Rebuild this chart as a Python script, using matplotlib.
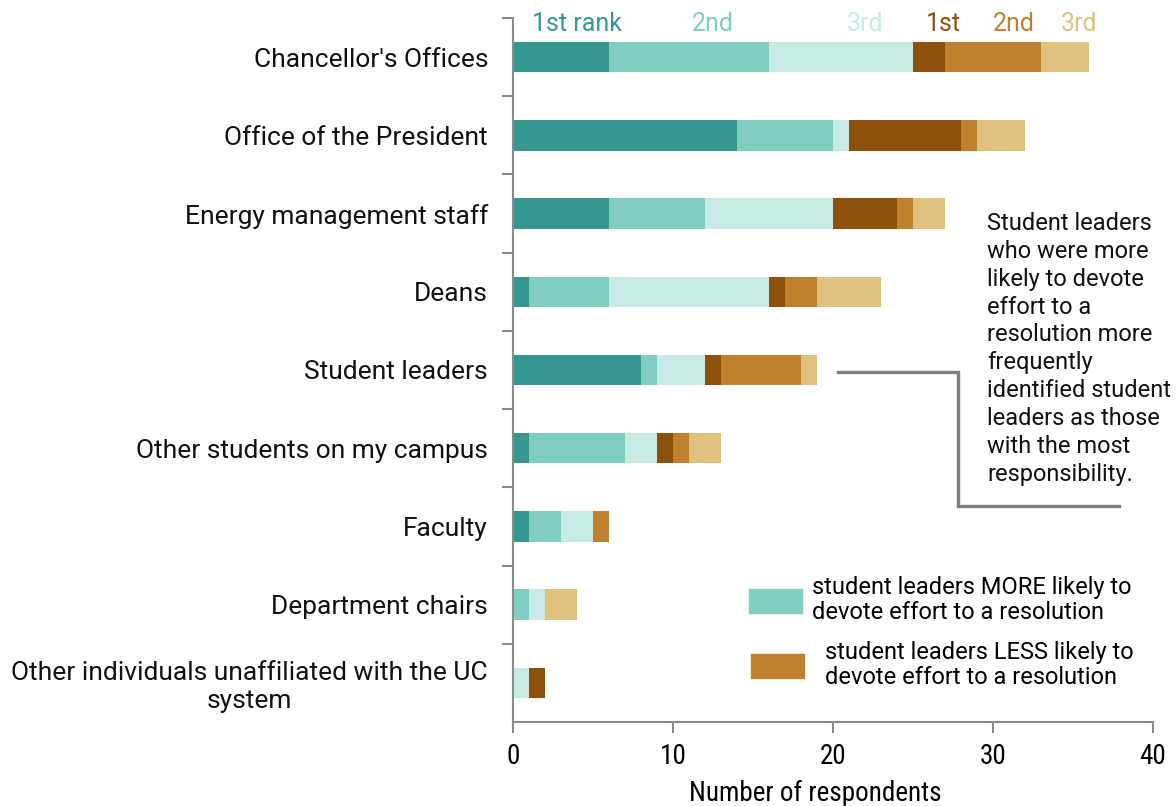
import numpy as np
import matplotlib.pyplot as plt
from matplotlib.patches import Patch

# categories, top to bottom
categories = ["Chancellor's Offices", "Office of the President", "Energy management staff",
              "Deans", "Student leaders", "Other students on my campus", "Faculty",
              "Department chairs", "Other individuals unaffiliated with the UC\nsystem"]

# student leaders MORE likely to devote effort (1st, 2nd, 3rd rank)
more_1st = [6, 14, 6, 1, 8, 1, 1, 0, 0]
more_2nd = [10, 6, 6, 5, 1, 6, 2, 1, 0]
more_3rd = [9, 1, 8, 10, 3, 2, 2, 1, 1]
# student leaders LESS likely to devote effort (1st, 2nd, 3rd rank)
less_1st = [2, 7, 4, 1, 1, 1, 0, 0, 1]
less_2nd = [6, 1, 1, 2, 5, 1, 1, 0, 0]
less_3rd = [3, 3, 2, 4, 1, 2, 0, 2, 0]

series = [more_1st, more_2nd, more_3rd, less_1st, less_2nd, less_3rd]
colors = ['#35978f', '#80cdc1', '#c7eae5', '#8c510a', '#bf812d', '#dfc27d']
rank_labels = ['1st rank', '2nd', '3rd', '1st', '2nd', '3rd']
rank_x = [4.0, 12.5, 22.0, 26.9, 31.3, 35.4]

plt.rcParams['font.family'] = ['Roboto', 'DejaVu Sans']
narrow = ['Roboto Condensed', 'Liberation Sans Narrow', 'Roboto']

fig = plt.figure(figsize=(11.76, 8.06), dpi=100)
ax = fig.add_axes([513/1176, 1-722/806, 640/1176, 704/806])

y = np.arange(len(categories))
left = np.zeros(len(categories))
for vals, c in zip(series, colors):
    vals = np.array(vals, dtype=float)
    ax.barh(y, vals, left=left, height=0.39, color=c, linewidth=0)
    left += vals

ax.set_xlim(0, 40)
ax.set_ylim(8.5, -0.5)
ax.set_yticks(y)
ax.set_yticklabels(categories, fontsize=19, color='#111111', multialignment='center')
ax.set_yticks(np.arange(-0.5, 8, 1), minor=True)
ax.tick_params(axis='y', which='major', length=0, pad=18)
ax.tick_params(axis='y', which='minor', length=8, width=1.5, color='#8c8c8c')
ax.set_xticks([0, 10, 20, 30, 40])
ax.tick_params(axis='x', length=8, width=1.5, color='#8c8c8c', pad=7)
for lab in ax.get_xticklabels():
    lab.set_fontfamily(narrow)
    lab.set_fontsize(19.5)
for s in ['top', 'right']:
    ax.spines[s].set_visible(False)
for s in ['left', 'bottom']:
    ax.spines[s].set_color('#8c8c8c')
    ax.spines[s].set_linewidth(1.5)

# rank labels above the first bar
for lab, xx, c in zip(rank_labels, rank_x, colors):
    ax.text(xx, -0.33, lab, color=c, fontsize=18, ha='center', va='baseline')

# callout
ax.plot([20.3, 27.8, 27.8, 37.9], [4.03, 4.03, 5.74, 5.74], color='#808080',
        linewidth=2.4, clip_on=False, solid_joinstyle='miter')
fig.text(987/1176, 1-212/806,
         "Student leaders\nwho were more\nlikely to devote\neffort to a\nresolution more\n"
         "frequently\nidentified student\nleaders as those\nwith the most\nresponsibility.",
         fontsize=17, va='top', ha='left', linespacing=1.27, color='#111111')

leg1 = ax.legend([Patch(color=colors[1])],
                 ["student leaders MORE likely to\ndevote effort to a resolution"],
                 loc='center left', bbox_to_anchor=(749/1176, 1-600/806),
                 bbox_transform=fig.transFigure, frameon=False, fontsize=17,
                 handlelength=2.25, handleheight=1.19, handletextpad=0.42,
                 borderpad=0, borderaxespad=0, labelspacing=0)
for t in leg1.get_texts():
    t.set_linespacing(1.15)
ax.add_artist(leg1)
leg2 = ax.legend([Patch(color=colors[4])],
                 ["student leaders LESS likely to\ndevote effort to a resolution"],
                 loc='center left', bbox_to_anchor=(751/1176, 1-665/806),
                 bbox_transform=fig.transFigure, frameon=False, fontsize=17,
                 handlelength=2.25, handleheight=1.19, handletextpad=0.9,
                 borderpad=0, borderaxespad=0, labelspacing=0)
for t in leg2.get_texts():
    t.set_linespacing(1.15)

fig.text(815/1176, 1-793/806, 'Number of respondents', fontsize=19.5,
         ha='center', va='center', family=narrow)

fig.savefig('out.png', dpi=100)
